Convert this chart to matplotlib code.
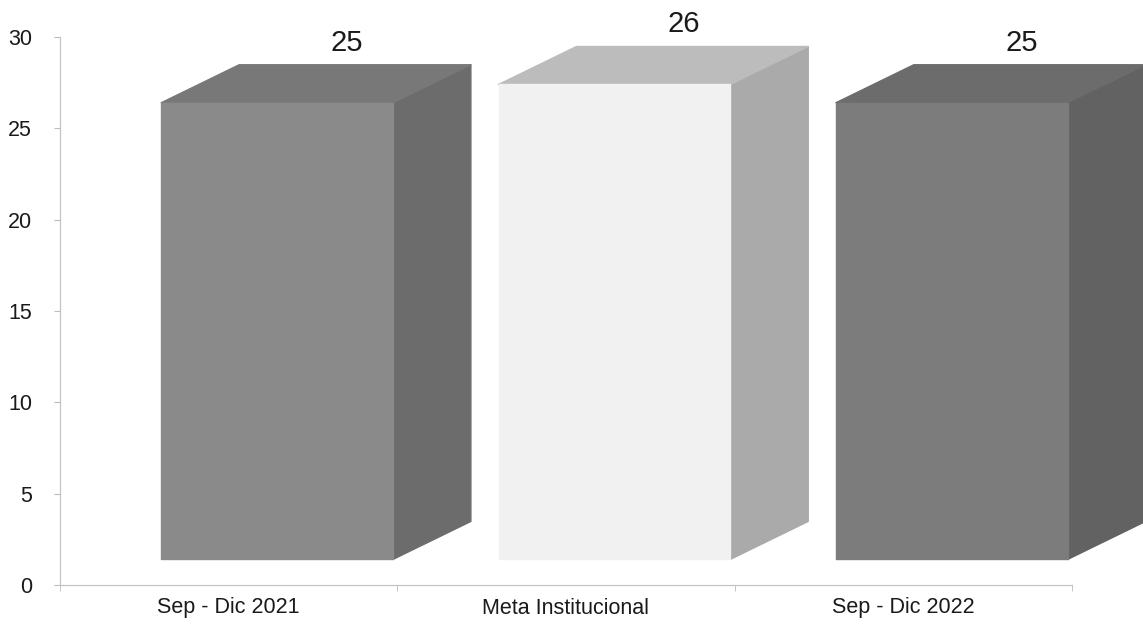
import matplotlib.pyplot as plt
from matplotlib.patches import Polygon

plt.rcParams['font.family'] = ['Liberation Sans', 'DejaVu Sans']

# data
categories = ['Sep - Dic 2021', 'Meta Institucional', 'Sep - Dic 2022']
values = [25, 26, 25]
yticks = [0, 5, 10, 15, 20, 25, 30]

# face colours per bar: front, top, side
front_colors = ['#8a8a8a', '#f1f1f1', '#7c7c7c']
top_colors = ['#787878', '#bcbcbc', '#6c6c6c']
side_colors = ['#6c6c6c', '#aaaaaa', '#626262']

# fake 3d geometry (data units)
left_off, right_off = -0.20, 0.487
dx, dy = 0.231, 2.08
base = 1.4

W, H = 1143, 627
fig = plt.figure(figsize=(W / 100, H / 100), dpi=100)
ax = fig.add_axes([60 / W, (H - 585) / H, (1072 - 60) / W, (585 - 37) / H])

for i, v in enumerate(values):
    xl = i + left_off
    xr = i + right_off
    top = base + v
    front = [(xl, base), (xr, base), (xr, top), (xl, top)]
    topf = [(xl, top), (xl + dx, top + dy), (xr + dx, top + dy), (xr, top)]
    side = [(xr, base), (xr + dx, base + dy), (xr + dx, top + dy), (xr, top)]
    for pts, c in [(side, side_colors[i]), (topf, top_colors[i]), (front, front_colors[i])]:
        ax.add_patch(Polygon(pts, closed=True, facecolor=c, edgecolor=c,
                             linewidth=1, joinstyle='round', clip_on=False, zorder=3))
    ax.text(i + 0.35, top + dy + 0.45, str(v), ha='center', va='bottom',
            fontsize=21, color='#1a1a1a', clip_on=False, zorder=4)

ax.set_xlim(-0.5, 2.5)
ax.set_ylim(0, 30)
ax.set_yticks(yticks)
ax.set_xticks(range(len(categories)))
ax.set_xticklabels(categories)
ax.set_xticks([-0.5, 0.5, 1.5, 2.5], minor=True)

for s in ['top', 'right']:
    ax.spines[s].set_visible(False)
for s in ['left', 'bottom']:
    ax.spines[s].set_color('#c4c4c4')
    ax.spines[s].set_linewidth(0.9)

ax.tick_params(axis='y', length=4, color='#bbbbbb', labelsize=15.5, pad=16,
               labelcolor='#1a1a1a')
ax.tick_params(axis='x', which='major', length=0, labelsize=15.5, pad=9,
               labelcolor='#1a1a1a')
ax.tick_params(axis='x', which='minor', length=4, color='#bbbbbb')

fig.savefig('out.png', dpi=100)
